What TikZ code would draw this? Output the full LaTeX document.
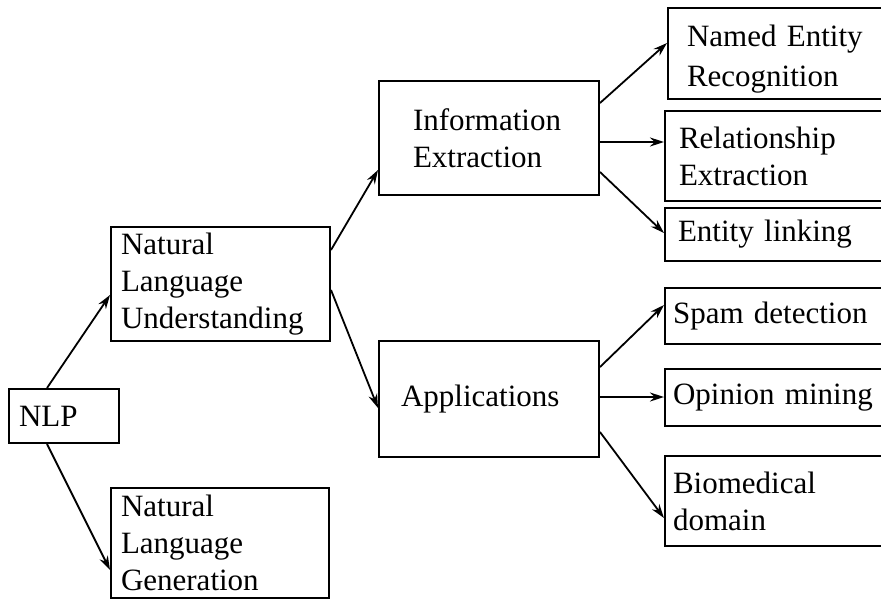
\documentclass[tikz,border=0pt]{standalone}
\usepackage{fontspec}
\setmainfont{Liberation Serif}
\usetikzlibrary{arrows.meta, calc, positioning}

\begin{document}
\begin{tikzpicture}[x=0.5pt, y=-0.5pt,
    box/.style={draw, line width=1pt, anchor=north west, align=left, inner ysep=0pt,
                font=\fontsize{15.5}{18.5}\selectfont},
    arr/.style={-{Stealth[length=7pt, width=4.5pt]}, line width=0.9pt}]
    \clip (0,0) rectangle (881,600);

    % Left column
    \node[box, inner xsep=5pt, text width=45pt, minimum height=27pt] (nlp) at (8,388) {NLP};
    \node[box, inner xsep=5pt, text width=99.5pt, minimum height=57pt] (nlu) at (110,226) {Natural\\Language\\Understanding};
    \node[box, inner xsep=5pt, text width=99pt, minimum height=55pt] (nlg) at (110,487) {Natural\\Language\\Generation};

    % Middle column
    \node[box, inner xsep=17pt, text width=76pt, minimum height=57pt] (ie) at (378,80) {Information\\Extraction};
    \node[box, inner xsep=11pt, text width=88pt, minimum height=58pt] (app) at (378,340) {Applications};

    % Right column
    \node[box, inner xsep=9.5pt, text width=130pt, minimum height=45.5pt,
          font=\fontsize{15.5}{20}\selectfont] (ner) at (667,7) {\\[-4pt]Named Entity\\Recognition};
    \node[box, inner xsep=7pt, text width=130pt, minimum height=45pt] (rel) at (664,110) {Relationship\\Extraction};
    \node[box, inner xsep=6.5pt, text width=130pt, minimum height=26.5pt] (el) at (664,207) {Entity linking};
    \node[box, inner xsep=4pt, text width=130pt, minimum height=28pt] (spam) at (664,287) {Spam detection};
    \node[box, inner xsep=4pt, text width=130pt, minimum height=28.5pt] (op) at (664,368) {Opinion mining};
    \node[box, inner xsep=4pt, text width=130pt, minimum height=45pt] (bio) at (664,455) {Biomedical\\domain};

    % Arrows
    \draw[arr] ($(nlp.north west)+(39,0)$) -- ($(nlu.north west)+(0,69)$);
    \draw[arr] ($(nlp.south west)+(39,0)$) -- ($(nlg.north west)+(0,83)$);
    \draw[arr] ($(nlu.north east)+(0,24)$) -- ($(ie.north west)+(0,90)$);
    \draw[arr] ($(nlu.north east)+(0,64)$) -- ($(app.north west)+(0,68)$);
    \draw[arr] ($(ie.north east)+(0,23)$) -- ($(ner.north west)+(0,36)$);
    \draw[arr] ($(ie.north east)+(0,62)$) -- ($(rel.north west)+(0,32)$);
    \draw[arr] ($(ie.north east)+(0,92)$) -- ($(el.north west)+(0,26)$);
    \draw[arr] ($(app.north east)+(0,27)$) -- ($(spam.north west)+(0,18)$);
    \draw[arr] ($(app.north east)+(0,57)$) -- ($(op.north west)+(0,29)$);
    \draw[arr] ($(app.north east)+(0,92)$) -- ($(bio.north west)+(0,63)$);
\end{tikzpicture}
\end{document}
